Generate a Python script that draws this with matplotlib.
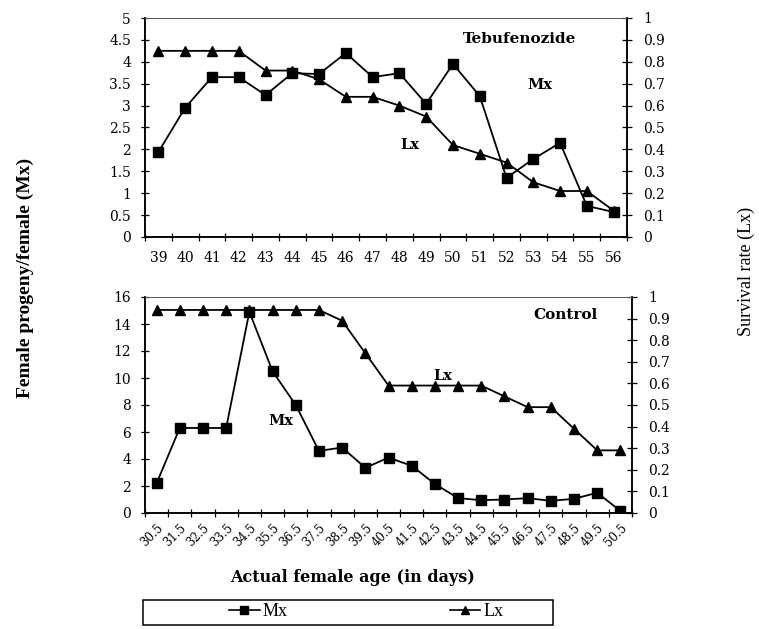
import matplotlib
matplotlib.use("Agg")
import matplotlib.pyplot as plt
from matplotlib.lines import Line2D
from matplotlib.patches import Rectangle
import numpy as np

# ---- data ----
teb_age = ["39", "40", "41", "42", "43", "44", "45", "46", "47", "48",
           "49", "50", "51", "52", "53", "54", "55", "56"]
teb_mx = [1.94, 2.95, 3.65, 3.65, 3.24, 3.74, 3.72, 4.2, 3.65, 3.74,
          3.04, 3.95, 3.22, 1.35, 1.78, 2.15, 0.71, 0.57]
teb_lx = [0.85, 0.85, 0.85, 0.85, 0.76, 0.76, 0.72, 0.64, 0.64, 0.60,
          0.55, 0.42, 0.38, 0.34, 0.25, 0.21, 0.21, 0.12]

ctl_age = ["30.5", "31.5", "32.5", "33.5", "34.5", "35.5", "36.5", "37.5",
           "38.5", "39.5", "40.5", "41.5", "42.5", "43.5", "44.5", "45.5",
           "46.5", "47.5", "48.5", "49.5", "50.5"]
ctl_mx = [2.2, 6.3, 6.3, 6.3, 14.9, 10.5, 8.0, 4.6, 4.85, 3.35, 4.1,
          3.5, 2.15, 1.1, 0.95, 1.0, 1.1, 0.9, 1.05, 1.5, 0.15]
ctl_lx = [0.94, 0.94, 0.94, 0.94, 0.94, 0.94, 0.94, 0.94, 0.89, 0.74, 0.59,
          0.59, 0.59, 0.59, 0.59, 0.54, 0.49, 0.49, 0.39, 0.29, 0.29]

W, H = 759, 629
fig = plt.figure(figsize=(W / 100, H / 100), dpi=100)
fig.patch.set_facecolor("white")

SERIF = "DejaVu Serif"
TIMES = "Liberation Serif"


def fx(px):
    return px / W


def fy(py):
    return 1 - py / H


def style_panel(ax, ax2, labels, xfs, rot):
    n = len(labels)
    ax.set_xlim(-0.5, n - 0.5)
    ax.set_xticks(np.arange(n))
    ax.set_xticks(np.arange(n + 1) - 0.5, minor=True)
    if rot:
        ax.set_xticklabels(labels, rotation=45, ha="right",
                           rotation_mode="anchor", fontsize=xfs, family=SERIF)
        ax.tick_params(axis="x", which="major", length=0, pad=6)
    else:
        ax.set_xticklabels(labels, fontsize=xfs, family=SERIF)
        ax.tick_params(axis="x", which="major", length=0, pad=10)
    ax.tick_params(axis="x", which="minor", direction="inout", length=6,
                   width=0.9)
    ax.tick_params(axis="y", direction="inout", length=6, width=0.9,
                   labelsize=10, pad=7)
    ax2.tick_params(axis="y", direction="inout", length=7, width=0.9,
                    labelsize=10, pad=8)
    for lab in ax.get_yticklabels() + ax2.get_yticklabels():
        lab.set_family(SERIF)
    for a in (ax, ax2):
        a.spines["top"].set_linestyle((0, (3, 1)))
        a.spines["top"].set_linewidth(0.7)
        a.spines["top"].set_color("0.35")
        for s in ("left", "right", "bottom"):
            a.spines[s].set_linewidth(1.1)
    ax.patch.set_alpha(0)


def fmt(v):
    return "%g" % v


line_kw = dict(color="black", lw=1.3)
MS = 6.5

# ---- top panel: Tebufenozide ----
ax1 = fig.add_axes([fx(145), fy(237), fx(482), 219 / H])
ax1b = ax1.twinx()
x1 = np.arange(len(teb_age))
ax1.plot(x1, teb_mx, marker="s", ms=MS, **line_kw, zorder=3)
ax1b.plot(x1, teb_lx, marker="^", ms=MS + 0.5, **line_kw, zorder=3)
ax1.set_ylim(0, 5)
ax1.set_yticks(np.arange(0, 5.01, 0.5))
ax1.set_yticklabels([fmt(v) for v in np.arange(0, 5.01, 0.5)])
ax1b.set_ylim(0, 1)
ax1b.set_yticks(np.arange(0, 1.001, 0.1))
ax1b.set_yticklabels([fmt(round(v, 1)) for v in np.arange(0, 1.001, 0.1)])
style_panel(ax1, ax1b, teb_age, 10, False)

ax1.text(0.778, 0.905, "Tebufenozide", transform=ax1.transAxes,
         ha="center", va="center", fontsize=11, fontweight="bold", family=SERIF)
ax1.text(0.82, 0.694, "Mx", transform=ax1.transAxes, ha="center",
         va="center", fontsize=10.5, fontweight="bold", family=SERIF)
ax1.text(0.55, 0.42, "Lx", transform=ax1.transAxes, ha="center",
         va="center", fontsize=10.5, fontweight="bold", family=SERIF)

# ---- bottom panel: Control ----
ax2 = fig.add_axes([fx(145), fy(513), fx(487), 216 / H])
ax2b = ax2.twinx()
x2 = np.arange(len(ctl_age))
ax2.plot(x2, ctl_mx, marker="s", ms=MS, **line_kw, zorder=3)
ax2b.plot(x2, ctl_lx, marker="^", ms=MS + 0.5, **line_kw, zorder=3)
ax2.set_ylim(0, 16)
ax2.set_yticks(np.arange(0, 16.01, 2))
ax2.set_yticklabels([fmt(v) for v in np.arange(0, 16.01, 2)])
ax2b.set_ylim(0, 1)
ax2b.set_yticks(np.arange(0, 1.001, 0.1))
ax2b.set_yticklabels([fmt(round(v, 1)) for v in np.arange(0, 1.001, 0.1)])
style_panel(ax2, ax2b, ctl_age, 8.5, True)

ax2.text(0.864, 0.917, "Control", transform=ax2.transAxes, ha="center",
         va="center", fontsize=11, fontweight="bold", family=SERIF)
ax2.text(0.612, 0.634, "Lx", transform=ax2.transAxes, ha="center",
         va="center", fontsize=10.5, fontweight="bold", family=SERIF)
ax2.text(0.279, 0.426, "Mx", transform=ax2.transAxes, ha="center",
         va="center", fontsize=10.5, fontweight="bold", family=SERIF)

# ---- shared labels ----
fig.text(fx(25), fy(278), "Female progeny/female (Mx)", rotation=90,
         ha="center", va="center", fontsize=14, fontweight="bold",
         family=TIMES)
fig.text(fx(746), fy(271), "Survival rate (Lx)", rotation=90,
         ha="center", va="center", fontsize=13, family=TIMES)
fig.text(fx(353), fy(578), "Actual female age (in days)", ha="center",
         va="center", fontsize=11.5, fontweight="bold", family=SERIF)

# ---- legend ----
handles = [Line2D([], [], color="black", lw=1.2, marker="s", ms=6),
           Line2D([], [], color="black", lw=1.2, marker="^", ms=6)]
fig.legend(handles, ["Mx", "Lx"], loc="center", ncol=2,
           bbox_to_anchor=(fx(366), fy(612)), frameon=False,
           columnspacing=9.0, handlelength=1.7, handletextpad=0.15,
           prop={"family": TIMES, "size": 13})
fig.patches.append(Rectangle((fx(143), fy(625)), fx(410), 25 / H,
                             transform=fig.transFigure, fill=False,
                             lw=1.1, edgecolor="black"))

fig.savefig("out.png", dpi=100, facecolor="white")
